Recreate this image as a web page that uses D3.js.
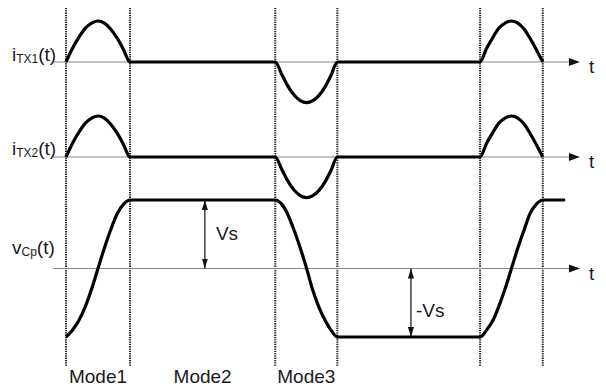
<!DOCTYPE html>
<html>
<head>
<meta charset="utf-8">
<script src="https://cdn.jsdelivr.net/npm/d3@7"></script>
<style>
  html, body { margin: 0; padding: 0; background: #fff; }
  svg { display: block; font-family: "Liberation Sans", Arial, sans-serif; }
</style>
</head>
<body>
<div id="chart"></div>
<script>
// mode boundaries (time units) and labels
const modeBounds = [0, 1, 3.27, 4.24, 6.47, 7.45];
const modeLabels = ["Mode1", "Mode2", "Mode3"];
const axisStart = -0.2;
const axisEnd = 8.03;

// transformer current 1, [t, value] (amplitude = 1)
const iTx1 = [
  [0, 0], [0.1, 0.33], [0.2, 0.6], [0.3, 0.82], [0.4, 0.95], [0.5, 1], [0.6, 0.95], [0.7, 0.8], [0.8, 0.58], [0.9, 0.3], [1, 0],
  [3.27, 0], [3.37, -0.3], [3.46, -0.57], [3.56, -0.8], [3.66, -0.94], [3.76, -0.99], [3.85, -0.95], [3.95, -0.82], [4.05, -0.6], [4.14, -0.33], [4.24, 0],
  [6.47, 0], [6.57, 0.33], [6.67, 0.6], [6.76, 0.82], [6.86, 0.95], [6.96, 1], [7.06, 0.95], [7.16, 0.8], [7.25, 0.58], [7.35, 0.3], [7.45, 0]
];
// transformer current 2
const iTx2 = [
  [0, 0], [0.1, 0.33], [0.2, 0.6], [0.3, 0.82], [0.4, 0.95], [0.5, 1], [0.6, 0.95], [0.7, 0.8], [0.8, 0.58], [0.9, 0.3], [1, 0],
  [3.27, 0], [3.37, -0.3], [3.46, -0.57], [3.56, -0.8], [3.66, -0.94], [3.76, -0.99], [3.85, -0.95], [3.95, -0.82], [4.05, -0.6], [4.14, -0.33], [4.24, 0],
  [6.47, 0], [6.57, 0.33], [6.67, 0.6], [6.76, 0.82], [6.86, 0.95], [6.96, 1], [7.06, 0.95], [7.16, 0.8], [7.25, 0.58], [7.35, 0.3], [7.45, 0]
];
// capacitor voltage, in units of Vs
const vCp = [
  [0, -1], [0.1, -0.9], [0.2, -0.76], [0.3, -0.56], [0.4, -0.3], [0.5, 0], [0.6, 0.3], [0.7, 0.57], [0.8, 0.8], [0.9, 0.94], [1, 1],
  [3.27, 1], [3.37, 0.94], [3.46, 0.8], [3.56, 0.57], [3.66, 0.3], [3.76, 0], [3.85, -0.3], [3.95, -0.56], [4.05, -0.76], [4.14, -0.9], [4.24, -1],
  [6.47, -1], [6.57, -0.9], [6.67, -0.76], [6.76, -0.56], [6.86, -0.3], [6.96, 0], [7.06, 0.3], [7.16, 0.57], [7.25, 0.8], [7.35, 0.94], [7.45, 1],
  [7.8, 1]
];

const width = 606, height = 389;

const svg = d3.select("#chart").append("svg")
  .attr("width", width).attr("height", height)
  .attr("viewBox", `0 0 ${width} ${height}`);

const x = d3.scaleLinear().domain([0, 8]).range([66, 578]);

const panels = [
  { data: iTx1, y: d3.scaleLinear().domain([-1, 1]).range([103, 21]), label: ["i", "TX1", "(t)"], labelY: 61 },
  { data: iTx2, y: d3.scaleLinear().domain([-1, 1]).range([198, 116]), label: ["i", "TX2", "(t)"], labelY: 155 },
  { data: vCp, y: d3.scaleLinear().domain([-1, 1]).range([337, 200]), label: ["v", "Cp", "(t)"], labelY: 254 }
];

const defs = svg.append("defs");
defs.append("marker")
  .attr("id", "ah")
  .attr("viewBox", "0 0 10 6")
  .attr("refX", 10).attr("refY", 3)
  .attr("markerWidth", 10).attr("markerHeight", 6)
  .attr("markerUnits", "userSpaceOnUse")
  .attr("orient", "auto-start-reverse")
  .append("path").attr("d", "M0,0L10,3L0,6Z").attr("fill", "#111");

// mode boundary lines
svg.append("g").selectAll("line")
  .data(modeBounds)
  .join("line")
  .attr("x1", d => x(d)).attr("x2", d => x(d))
  .attr("y1", 8).attr("y2", 366)
  .attr("stroke", "#222")
  .attr("stroke-width", 2)
  .attr("stroke-dasharray", "1.3 1");

const line = d3.line().curve(d3.curveMonotoneX);

panels.forEach(p => {
  const y0 = p.y(0);
  // time axis
  svg.append("line")
    .attr("x1", x(axisStart)).attr("x2", x(axisEnd) - 9)
    .attr("y1", y0).attr("y2", y0)
    .attr("stroke", "#888").attr("stroke-width", 1.2);
  svg.append("path")
    .attr("d", `M${x(axisEnd)},${y0}L${x(axisEnd) - 11},${y0 - 4}L${x(axisEnd) - 11},${y0 + 4}Z`)
    .attr("fill", "#111");
  svg.append("text")
    .attr("x", x(axisEnd) + 9).attr("y", y0 + 11)
    .attr("font-size", 19).attr("fill", "#1a1a1a")
    .text("t");

  // waveform
  svg.append("path")
    .datum(p.data)
    .attr("d", line.x(d => x(d[0])).y(d => p.y(d[1])))
    .attr("fill", "none")
    .attr("stroke", "#000")
    .attr("stroke-width", 3.2)
    .attr("stroke-linejoin", "round");

  // signal label with subscript
  const t = svg.append("text")
    .attr("x", 12).attr("y", p.labelY)
    .attr("font-size", 19).attr("fill", "#1a1a1a");
  t.append("tspan").text(p.label[0]);
  t.append("tspan").attr("font-size", 12).attr("dy", 2).text(p.label[1]);
  t.append("tspan").attr("dy", -2).text(p.label[2]);
});

// Vs annotations
const vy = panels[2].y;
const annots = [
  { t: 2.17, from: 0, to: 1, text: "Vs", dx: 11, ty: 0.52 },
  { t: 5.39, from: 0, to: -1, text: "-Vs", dx: 5, ty: -0.6 }
];
annots.forEach(a => {
  svg.append("line")
    .attr("x1", x(a.t)).attr("x2", x(a.t))
    .attr("y1", vy(a.from)).attr("y2", vy(a.to))
    .attr("stroke", "#111").attr("stroke-width", 1.2)
    .attr("marker-start", "url(#ah)")
    .attr("marker-end", "url(#ah)");
  svg.append("text")
    .attr("x", x(a.t) + a.dx).attr("y", vy(a.ty) + 7)
    .attr("font-size", 19).attr("fill", "#1a1a1a")
    .text(a.text);
});

// mode labels
svg.append("g").selectAll("text")
  .data(modeLabels)
  .join("text")
  .attr("x", (d, i) => (x(modeBounds[i]) + x(modeBounds[i + 1])) / 2)
  .attr("y", 383)
  .attr("text-anchor", "middle")
  .attr("font-size", 19).attr("fill", "#1a1a1a")
  .text(d => d);
</script>
</body>
</html>
